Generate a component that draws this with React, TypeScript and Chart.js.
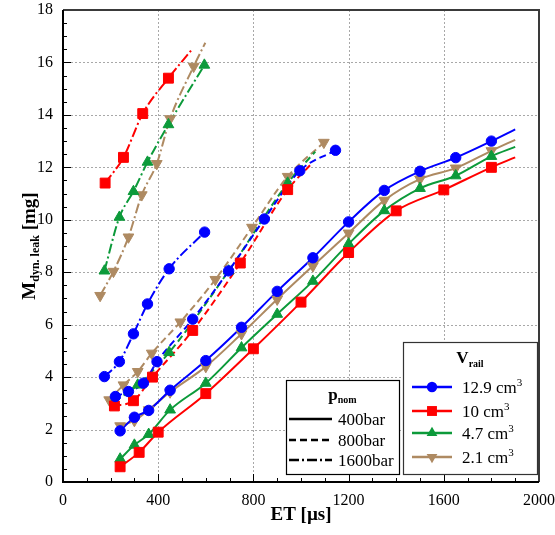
import React, { useEffect, useRef } from 'react';
import { Chart, registerables } from 'chart.js';

Chart.register(...registerables);

// ---------- axis ticks ----------
const X_MIN = 0, X_MAX = 2000, X_STEP = 400, X_MINOR = 100;
const Y_MIN = 0, Y_MAX = 18, Y_STEP = 2, Y_MINOR = 0.5;

// ---------- data: ET [µs] / M [mg] ----------
// 400 bar (solid)
const ET_B400 = [240, 300, 360, 450, 600, 750, 900, 1050, 1200, 1350, 1500, 1650, 1800];
const M_B400 = [1.95, 2.47, 2.73, 3.5, 4.63, 5.9, 7.27, 8.55, 9.92, 11.12, 11.85, 12.37, 13.0];
const ET_B400_TAIL = [1900];
const M_B400_TAIL = [13.45];

const ET_R400 = [240, 320, 400, 600, 800, 1000, 1200, 1400, 1600, 1800];
const M_R400 = [0.58, 1.13, 1.9, 3.37, 5.08, 6.86, 8.75, 10.34, 11.14, 12.0];
const ET_R400_TAIL = [1900];
const M_R400_TAIL = [12.38];

const ET_G400 = [240, 300, 360, 450, 600, 750, 900, 1050, 1200, 1350, 1500, 1650, 1800];
const M_G400 = [0.88, 1.41, 1.82, 2.75, 3.77, 5.12, 6.4, 7.66, 9.08, 10.35, 11.2, 11.68, 12.42];
const ET_G400_TAIL = [1900];
const M_G400_TAIL = [12.78];

const ET_T400 = [240, 300, 360, 450, 600, 750, 900, 1050, 1200, 1350, 1500, 1650, 1800];
const M_T400 = [2.14, 2.34, 2.75, 3.43, 4.4, 5.65, 6.97, 8.24, 9.49, 10.74, 11.55, 11.97, 12.63];
const ET_T400_TAIL = [1900];
const M_T400_TAIL = [13.05];

// 800 bar (dashed)
const ET_B800 = [220, 275, 338, 395, 545, 696, 846, 995, 1145];
const M_B800 = [3.26, 3.45, 3.77, 4.59, 6.21, 8.05, 10.03, 11.87, 12.65];
const ET_B800_TAIL: number[] = [];
const M_B800_TAIL: number[] = [];

const ET_R800 = [216, 296, 376, 545, 745, 944];
const M_R800 = [2.9, 3.1, 4.0, 5.78, 8.35, 11.15];
const ET_R800_TAIL = [1040];
const M_R800_TAIL = [12.1];

const ET_G800 = [216, 314, 446, 696, 944];
const M_G800 = [3.07, 3.7, 4.94, 8.05, 11.4];
const ET_G800_TAIL = [1060];
const M_G800_TAIL = [12.6];

const ET_T800 = [194, 254, 314, 373, 493, 640, 794, 944, 1096];
const M_T800 = [3.13, 3.7, 4.21, 4.91, 6.1, 7.72, 9.71, 11.65, 12.95];
const ET_T800_TAIL: number[] = [];
const M_T800_TAIL: number[] = [];

// 1600 bar (dash-dot)
const ET_B1600 = [174, 237, 296, 355, 446, 595];
const M_B1600 = [4.02, 4.59, 5.65, 6.79, 8.13, 9.53];
const ET_B1600_TAIL: number[] = [];
const M_B1600_TAIL: number[] = [];

const ET_R1600 = [177, 254, 335, 443];
const M_R1600 = [11.4, 12.38, 14.05, 15.4];
const ET_R1600_TAIL = [542];
const M_R1600_TAIL = [16.5];

const ET_G1600 = [174, 237, 296, 355, 443, 594];
const M_G1600 = [8.05, 10.1, 11.08, 12.2, 13.63, 15.9];
const ET_G1600_TAIL: number[] = [];
const M_G1600_TAIL: number[] = [];

const ET_T1600 = [156, 212, 275, 331, 394, 450, 549];
const M_T1600 = [7.11, 8.03, 9.34, 10.95, 12.14, 13.85, 15.85];
const ET_T1600_TAIL = [598];
const M_T1600_TAIL = [16.75];

// ---------- legend texts ----------
const VOLUME_LABELS = ['12.9 cm', '10 cm', '4.7 cm', '2.1 cm'];
const PRESSURE_LABELS = ['400bar', '800bar', '1600bar'];

// ---------- styles ----------
const BLUE = '#0000ff';
const RED = '#ff0000';
const GREEN = '#0c9a3a';
const TAN = '#ae8a62';
const FONT = '"Liberation Serif", "Times New Roman", serif';

const DASH_SOLID: number[] = [];
const DASH_DASHED = [7, 4];
const DASH_DASHDOT = [10, 3, 2, 3];

type Vol = { color: string; style: string; rot: number; radius: number };
const VOLS: Vol[] = [
  { color: BLUE, style: 'circle', rot: 0, radius: 5.2 },
  { color: RED, style: 'rect', rot: 0, radius: 7 },
  { color: GREEN, style: 'triangle', rot: 0, radius: 6.2 },
  { color: TAN, style: 'triangle', rot: 180, radius: 6.2 },
];

const CURVES = [
  { v: 0, dash: DASH_SOLID, et: ET_B400, m: M_B400, etT: ET_B400_TAIL, mT: M_B400_TAIL },
  { v: 1, dash: DASH_SOLID, et: ET_R400, m: M_R400, etT: ET_R400_TAIL, mT: M_R400_TAIL },
  { v: 2, dash: DASH_SOLID, et: ET_G400, m: M_G400, etT: ET_G400_TAIL, mT: M_G400_TAIL },
  { v: 3, dash: DASH_SOLID, et: ET_T400, m: M_T400, etT: ET_T400_TAIL, mT: M_T400_TAIL },
  { v: 0, dash: DASH_DASHED, et: ET_B800, m: M_B800, etT: ET_B800_TAIL, mT: M_B800_TAIL },
  { v: 1, dash: DASH_DASHED, et: ET_R800, m: M_R800, etT: ET_R800_TAIL, mT: M_R800_TAIL },
  { v: 2, dash: DASH_DASHED, et: ET_G800, m: M_G800, etT: ET_G800_TAIL, mT: M_G800_TAIL },
  { v: 3, dash: DASH_DASHED, et: ET_T800, m: M_T800, etT: ET_T800_TAIL, mT: M_T800_TAIL },
  { v: 0, dash: DASH_DASHDOT, et: ET_B1600, m: M_B1600, etT: ET_B1600_TAIL, mT: M_B1600_TAIL },
  { v: 1, dash: DASH_DASHDOT, et: ET_R1600, m: M_R1600, etT: ET_R1600_TAIL, mT: M_R1600_TAIL },
  { v: 2, dash: DASH_DASHDOT, et: ET_G1600, m: M_G1600, etT: ET_G1600_TAIL, mT: M_G1600_TAIL },
  { v: 3, dash: DASH_DASHDOT, et: ET_T1600, m: M_T1600, etT: ET_T1600_TAIL, mT: M_T1600_TAIL },
];

function pts(xs: number[], ys: number[]) {
  return xs.map((x, i) => ({ x, y: ys[i] }));
}

type Run = { t: string; f: string; dy?: number };
function drawRuns(ctx: CanvasRenderingContext2D, runs: Run[], x: number, y: number, align: 'left' | 'center') {
  let w = 0;
  for (const r of runs) { ctx.font = r.f; w += ctx.measureText(r.t).width; }
  let cx = align === 'center' ? x - w / 2 : x;
  ctx.textAlign = 'left';
  ctx.textBaseline = 'alphabetic';
  for (const r of runs) {
    ctx.font = r.f;
    ctx.fillText(r.t, cx, y + (r.dy || 0));
    cx += ctx.measureText(r.t).width;
  }
}

function drawMarker(ctx: CanvasRenderingContext2D, vol: Vol, x: number, y: number) {
  ctx.fillStyle = vol.color;
  ctx.beginPath();
  const r = vol.radius;
  if (vol.style === 'circle') {
    ctx.arc(x, y, r, 0, Math.PI * 2);
  } else if (vol.style === 'rect') {
    const s = r * Math.SQRT1_2;
    ctx.rect(x - s, y - s, 2 * s, 2 * s);
  } else {
    const rad0 = (vol.rot * Math.PI) / 180;
    for (let k = 0; k < 3; k++) {
      const a = rad0 + (k * 2 * Math.PI) / 3;
      const px = x + Math.sin(a) * r;
      const py = y - Math.cos(a) * r;
      if (k === 0) ctx.moveTo(px, py); else ctx.lineTo(px, py);
    }
    ctx.closePath();
  }
  ctx.fill();
}

const decorPlugin = {
  id: 'decor',
  beforeDatasetsDraw(chart: any) {
    const { ctx, chartArea: a, scales } = chart;
    const xs = scales.x, ys = scales.y;
    ctx.save();
    ctx.strokeStyle = '#a8a8a8';
    ctx.lineWidth = 1;
    ctx.setLineDash([2, 2]);
    for (let v = X_MIN + X_STEP; v < X_MAX; v += X_STEP) {
      const px = Math.round(xs.getPixelForValue(v)) + 0.5;
      ctx.beginPath(); ctx.moveTo(px, a.top); ctx.lineTo(px, a.bottom); ctx.stroke();
    }
    for (let v = Y_MIN + Y_STEP; v < Y_MAX; v += Y_STEP) {
      const py = Math.round(ys.getPixelForValue(v)) + 0.5;
      ctx.beginPath(); ctx.moveTo(a.left, py); ctx.lineTo(a.right, py); ctx.stroke();
    }
    ctx.restore();
  },
  afterDraw(chart: any) {
    const { ctx, chartArea: a, scales } = chart;
    const xs = scales.x, ys = scales.y;
    ctx.save();
    ctx.setLineDash([]);
    // tick marks (inward)
    ctx.strokeStyle = '#000';
    ctx.lineWidth = 1;
    for (let v = X_MIN; v <= X_MAX + 1e-6; v += X_MINOR) {
      const major = Math.abs(v / X_STEP - Math.round(v / X_STEP)) < 1e-6;
      const px = Math.round(xs.getPixelForValue(v)) + 0.5;
      const len = major ? 8 : 4;
      ctx.beginPath(); ctx.moveTo(px, a.bottom); ctx.lineTo(px, a.bottom - len); ctx.stroke();
    }
    for (let v = Y_MIN; v <= Y_MAX + 1e-6; v += Y_MINOR) {
      const major = Math.abs(v / Y_STEP - Math.round(v / Y_STEP)) < 1e-6;
      const py = Math.round(ys.getPixelForValue(v)) + 0.5;
      const len = major ? 8 : 4;
      ctx.beginPath(); ctx.moveTo(a.left, py); ctx.lineTo(a.left + len, py); ctx.stroke();
    }
    // frame
    ctx.lineWidth = 2;
    ctx.strokeStyle = '#3a3a3a';
    ctx.beginPath(); ctx.moveTo(a.left, a.top); ctx.lineTo(a.right, a.top); ctx.lineTo(a.right, a.bottom); ctx.stroke();
    ctx.strokeStyle = '#000';
    ctx.beginPath(); ctx.moveTo(a.left, a.top); ctx.lineTo(a.left, a.bottom); ctx.lineTo(a.right, a.bottom); ctx.stroke();

    // ---- V_rail legend ----
    const vr = { l: a.right - 136, r: a.right - 2, t: a.bottom - 140, b: a.bottom - 8 };
    ctx.fillStyle = '#fff';
    ctx.fillRect(vr.l, vr.t, vr.r - vr.l, vr.b - vr.t);
    ctx.strokeStyle = '#333';
    ctx.lineWidth = 1.2;
    ctx.strokeRect(vr.l + 0.5, vr.t + 0.5, vr.r - vr.l, vr.b - vr.t);
    ctx.fillStyle = '#000';
    drawRuns(ctx, [
      { t: 'V', f: `bold 17px ${FONT}` },
      { t: 'rail', f: `bold 10px ${FONT}`, dy: 4 },
    ], (vr.l + vr.r) / 2, vr.t + 21, 'center');
    const rowY = [vr.t + 45, vr.t + 69, vr.t + 91, vr.t + 115];
    VOLS.forEach((vol, i) => {
      const y = rowY[i];
      ctx.strokeStyle = vol.color;
      ctx.lineWidth = 2.5;
      ctx.beginPath(); ctx.moveTo(vr.l + 9, y); ctx.lineTo(vr.l + 49, y); ctx.stroke();
      drawMarker(ctx, vol, vr.l + 29, y);
      ctx.fillStyle = '#000';
      drawRuns(ctx, [
        { t: VOLUME_LABELS[i], f: `17px ${FONT}` },
        { t: '3', f: `11px ${FONT}`, dy: -7 },
      ], vr.l + 59, y + 6, 'left');
    });

    // ---- p_nom legend ----
    const pn = { l: vr.l - 117, r: vr.l - 4, t: a.bottom - 102, b: a.bottom - 8 };
    ctx.fillStyle = '#fff';
    ctx.fillRect(pn.l, pn.t, pn.r - pn.l, pn.b - pn.t);
    ctx.strokeStyle = '#000';
    ctx.lineWidth = 1.2;
    ctx.strokeRect(pn.l + 0.5, pn.t + 0.5, pn.r - pn.l, pn.b - pn.t);
    ctx.fillStyle = '#000';
    drawRuns(ctx, [
      { t: 'p', f: `bold 17px ${FONT}` },
      { t: 'nom', f: `bold 10px ${FONT}`, dy: 3 },
    ], (pn.l + pn.r) / 2, pn.t + 20, 'center');
    const dashes = [DASH_SOLID, DASH_DASHED, DASH_DASHDOT];
    const pRowY = [pn.t + 39, pn.t + 60, pn.t + 80];
    PRESSURE_LABELS.forEach((lab, i) => {
      const y = pRowY[i];
      ctx.strokeStyle = '#000';
      ctx.lineWidth = 2.5;
      ctx.setLineDash(dashes[i]);
      ctx.beginPath(); ctx.moveTo(pn.l + 3, y); ctx.lineTo(pn.l + 46, y); ctx.stroke();
      ctx.setLineDash([]);
      ctx.fillStyle = '#000';
      drawRuns(ctx, [{ t: lab, f: `17px ${FONT}` }], pn.l + 52, y + 6, 'left');
    });

    // ---- axis titles ----
    ctx.fillStyle = '#000';
    drawRuns(ctx, [{ t: 'ET [µs]', f: `bold 19px ${FONT}` }], (a.left + a.right) / 2, 520, 'center');
    ctx.save();
    ctx.translate(35, (a.top + a.bottom) / 2);
    ctx.rotate(-Math.PI / 2);
    drawRuns(ctx, [
      { t: 'M', f: `bold 19px ${FONT}` },
      { t: 'dyn. leak', f: `bold 12px ${FONT}`, dy: 4 },
      { t: ' [mg]', f: `bold 19px ${FONT}` },
    ], 0, 0, 'center');
    ctx.restore();
    ctx.restore();
  },
};

export default function App() {
  const ref = useRef<HTMLCanvasElement>(null);
  useEffect(() => {
    if (!ref.current) return;
    const datasets: any[] = [];
    CURVES.forEach((c) => {
      const vol = VOLS[c.v];
      datasets.push({
        data: pts(c.et.concat(c.etT), c.m.concat(c.mT)),
        borderColor: vol.color,
        borderWidth: 2,
        borderDash: c.dash,
        pointRadius: 0,
        pointHoverRadius: 0,
        cubicInterpolationMode: 'monotone',
        fill: false,
        order: 2,
      });
    });
    CURVES.forEach((c) => {
      const vol = VOLS[c.v];
      datasets.push({
        data: pts(c.et, c.m),
        showLine: false,
        pointStyle: vol.style,
        pointRotation: vol.rot,
        pointRadius: vol.radius,
        pointHoverRadius: vol.radius,
        pointBackgroundColor: vol.color,
        pointBorderColor: vol.color,
        pointBorderWidth: 1,
        order: 1,
      });
    });
    const chart = new Chart(ref.current, {
      type: 'line',
      data: { datasets },
      plugins: [decorPlugin],
      options: {
        animation: false,
        responsive: false,
        events: [],
        layout: { padding: { top: 10, right: 16, left: 0, bottom: 0 } },
        plugins: { legend: { display: false }, tooltip: { enabled: false } },
        scales: {
          x: {
            type: 'linear',
            min: X_MIN,
            max: X_MAX,
            grid: { display: false, drawTicks: false },
            border: { display: false },
            ticks: {
              stepSize: X_STEP, color: '#000', padding: 9, font: { family: FONT, size: 16 },
              callback: (v: any) => String(v),
            },
            afterFit: (s: any) => { s.height = 53; s.paddingLeft = 0; s.paddingRight = 0; },
          },
          y: {
            type: 'linear',
            min: Y_MIN,
            max: Y_MAX,
            grid: { display: false, drawTicks: false },
            border: { display: false },
            ticks: {
              stepSize: Y_STEP, color: '#000', padding: 10, font: { family: FONT, size: 16 },
              callback: (v: any) => String(v),
            },
            afterFit: (s: any) => { s.width = 63; s.paddingTop = 0; s.paddingBottom = 0; },
          },
        },
      },
    } as any);
    return () => chart.destroy();
  }, []);
  return (
    <div style={{ position: 'absolute', left: 0, top: 0, width: 555, height: 535, background: '#fff' }}>
      <canvas ref={ref} width={555} height={535} />
    </div>
  );
}
